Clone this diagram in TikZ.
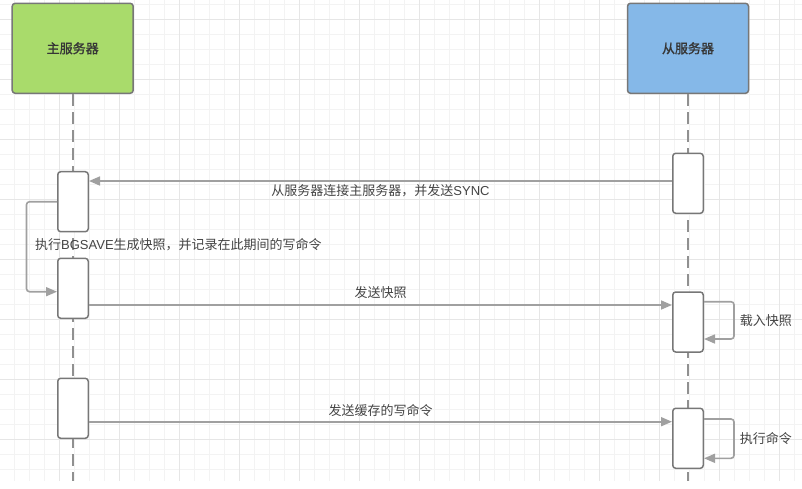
\documentclass[tikz,border=0pt]{standalone}
\usepackage{fontspec}
\setmainfont{Noto Sans CJK SC}
\newfontfamily\lat{Liberation Sans}
\newfontfamily\kopffont{Noto Sans CJK SC}[FakeBold=1.6]
\usetikzlibrary{arrows.meta}
\definecolor{rahmen}{HTML}{777777}
\definecolor{pfeil}{HTML}{A0A0A0}
\definecolor{gruen}{HTML}{A9DB6B}
\definecolor{blau}{HTML}{85B8E8}
\definecolor{schrift}{HTML}{444444}
\definecolor{netzA}{HTML}{F3F3F3}
\definecolor{netzB}{HTML}{E6E6E6}
\begin{document}
\begin{tikzpicture}[x=1pt,y=-1pt,
	kopf/.style={draw=rahmen,line width=1.5pt,rounded corners=3pt,minimum width=121pt,minimum height=90pt,text=schrift!80!black,font=\kopffont\fontsize{13}{15}\selectfont},
	akt/.style={draw=rahmen,fill=white,line width=1.5pt,rounded corners=3pt,minimum width=30.5pt,minimum height=60pt,inner sep=0pt},
	leben/.style={draw=pfeil!90!black,line width=1.6pt,dash pattern=on 12pt off 6pt},
	msg/.style={draw=pfeil,line width=1.6pt,-{Triangle[length=11pt,width=9pt]}},
	lbl/.style={text=schrift,font=\fontsize{13}{15}\selectfont,inner sep=3pt}]
	\useasboundingbox (0,0) rectangle (802,488);
	\fill[white] (0,0) rectangle (802,488);
	% raster
	\foreach \x in {14,29,...,802} \draw[netzA] (\x,0) -- (\x,481);
	\foreach \y in {4,19,...,481} \draw[netzA] (0,\y) -- (802,\y);
	\foreach \x in {59,119,...,802} \draw[netzB] (\x,0) -- (\x,481);
	\foreach \y in {19,79,...,481} \draw[netzB] (0,\y) -- (802,\y);

	\node[kopf,fill=gruen] (zhu) at (72.7,48.3) {主服务器};
	\node[kopf,fill=blau] (cong) at (688,48.3) {从服务器};
	\draw[leben] (zhu.south) -- (zhu.south |- 0,481);
	\draw[leben] (cong.south) -- (cong.south |- 0,481);

	\node[akt] (z1) at (73,201.7) {};
	\node[akt] (z2) at (73,288.3) {};
	\node[akt] (z3) at (73,408.3) {};
	\node[akt] (c1) at (688,183.3) {};
	\node[akt] (c2) at (688,322) {};
	\node[akt] (c3) at (688,438.3) {};

	\draw[msg] ([yshift=2.3pt]c1.west) -- ([yshift=2.3pt]c1.west -| z1.east) node[lbl,midway,below] {从服务器连接主服务器，并发送{\lat SYNC}};
	\draw[msg,rounded corners=3pt] (z1.west) -- ++(-30.5,0) |- ([yshift=-3.4pt]z2.west);
	\node[lbl,anchor=west] at (32,245) {执行{\lat BGSAVE}生成快照，并记录在此期间的写命令};
	\draw[msg] ([yshift=-16.7pt]z2.east) -- ([yshift=-16.7pt]z2.east -| c2.west) node[lbl,midway,above,inner sep=5.5pt] {发送快照};
	\draw[msg,rounded corners=3pt] ([yshift=20.3pt]c2.east) -- ++(30,0) |- ([yshift=-17pt]c2.east) node[lbl,pos=0.25,right,xshift=2pt] {载入快照};
	\draw[msg] ([yshift=-13.4pt]z3.east) -- ([yshift=-13.4pt]z3.east -| c3.west) node[lbl,midway,above,inner sep=4pt] {发送缓存的写命令};
	\draw[msg,rounded corners=3pt] ([yshift=19.3pt]c3.east) -- ++(30,0) |- ([yshift=-20pt]c3.east) node[lbl,pos=0.25,right,xshift=2pt] {执行命令};
\end{tikzpicture}
\end{document}
